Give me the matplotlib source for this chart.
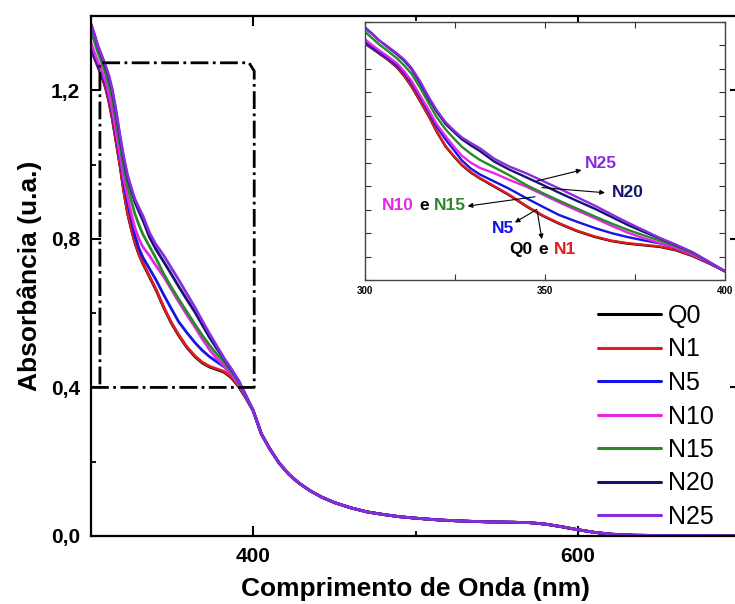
import matplotlib
matplotlib.use("Agg")
import matplotlib.pyplot as plt
from matplotlib.ticker import MultipleLocator, FuncFormatter, NullFormatter
from matplotlib.offsetbox import TextArea, HPacker, AnnotationBbox

plt.rcParams["font.family"] = ["Liberation Sans", "DejaVu Sans"]
plt.rcParams["font.weight"] = "bold"

# ---- absorption spectra (wavelength in nm, absorbance in a.u.) ----
wl_uv = [300, 302, 304, 306.5, 309, 311, 313, 315.5, 318, 320, 322.5, 325, 327, 329.5,
         332, 336, 340, 345, 349.5, 354, 359, 364, 368.5, 373, 377.5, 382, 386.5, 391,
         395.5, 400]
q0_uv = [1.309, 1.288, 1.266, 1.239, 1.206, 1.170, 1.126, 1.060, 0.993, 0.933, 0.869,
         0.823, 0.790, 0.758, 0.733, 0.698, 0.663, 0.613, 0.573, 0.540, 0.508, 0.483,
         0.466, 0.455, 0.448, 0.441, 0.426, 0.402, 0.371, 0.337]
n1_uv = [1.311, 1.290, 1.268, 1.241, 1.208, 1.172, 1.128, 1.062, 0.995, 0.935, 0.871,
         0.825, 0.792, 0.760, 0.735, 0.700, 0.665, 0.615, 0.575, 0.542, 0.510, 0.485,
         0.468, 0.457, 0.450, 0.443, 0.428, 0.403, 0.372, 0.337]
n5_uv = [1.315, 1.293, 1.271, 1.245, 1.216, 1.183, 1.142, 1.078, 1.012, 0.955, 0.899,
         0.850, 0.810, 0.775, 0.750, 0.720, 0.690, 0.648, 0.612, 0.577, 0.548, 0.521,
         0.500, 0.483, 0.469, 0.456, 0.436, 0.408, 0.374, 0.337]
n10_uv = [1.328, 1.303, 1.280, 1.253, 1.224, 1.190, 1.150, 1.085, 1.020, 0.965, 0.913,
          0.865, 0.830, 0.800, 0.778, 0.755, 0.728, 0.697, 0.664, 0.631, 0.596, 0.563,
          0.531, 0.502, 0.478, 0.458, 0.436, 0.408, 0.375, 0.337]
n15_uv = [1.360, 1.333, 1.305, 1.276, 1.245, 1.215, 1.180, 1.118, 1.048, 0.995, 0.942,
          0.900, 0.868, 0.838, 0.812, 0.780, 0.748, 0.704, 0.670, 0.638, 0.604, 0.570,
          0.541, 0.514, 0.490, 0.468, 0.443, 0.414, 0.377, 0.337]
n20_uv = [1.378, 1.352, 1.322, 1.292, 1.262, 1.235, 1.200, 1.138, 1.068, 1.018, 0.965,
          0.928, 0.900, 0.874, 0.850, 0.805, 0.772, 0.737, 0.705, 0.672, 0.637, 0.603,
          0.569, 0.535, 0.505, 0.477, 0.448, 0.418, 0.378, 0.337]
n25_uv = [1.374, 1.350, 1.322, 1.295, 1.266, 1.240, 1.205, 1.145, 1.075, 1.025, 0.972,
          0.935, 0.908, 0.884, 0.862, 0.817, 0.785, 0.754, 0.722, 0.690, 0.653, 0.616,
          0.580, 0.545, 0.512, 0.479, 0.450, 0.418, 0.378, 0.337]

# above 400 nm all samples coincide
wl_vis = [405, 410, 416, 422, 428, 435, 442, 450, 460, 470, 480, 490, 500, 515, 530,
          545, 560, 570, 580, 590, 600, 610, 620, 635, 660, 700]
abs_vis = [0.275, 0.236, 0.196, 0.166, 0.143, 0.122, 0.105, 0.090, 0.076, 0.065, 0.058,
           0.052, 0.048, 0.043, 0.040, 0.038, 0.037, 0.036, 0.032, 0.025, 0.017, 0.010,
           0.005, 0.002, 0.001, 0.000]

names = ["Q0", "N1", "N5", "N10", "N15", "N20", "N25"]
colors = ["#000000", "#e01c1c", "#1414e6", "#e628e6", "#2a8a2a", "#14146e", "#8a2be2"]
uv_sets = [q0_uv, n1_uv, n5_uv, n10_uv, n15_uv, n20_uv, n25_uv]

wl = wl_uv + wl_vis
spectra = [s + abs_vis for s in uv_sets]

# zoomed region marked on the main panel
zoom_x0, zoom_x1, zoom_y0, zoom_y1 = 305.5, 400.6, 0.4, 1.274

W, H = 735, 604
fig = plt.figure(figsize=(W / 100, H / 100), dpi=100)
ax = fig.add_axes([91 / W, 1 - 536 / H, (740 - 91) / W, (536 - 16) / H])

for name, col, y in zip(names, colors, spectra):
    ax.plot(wl, y, color=col, lw=2.0, label=name,
            solid_capstyle="round", solid_joinstyle="round")

ax.plot([300, zoom_x1, zoom_x1, zoom_x1 - 3.2, zoom_x0, zoom_x0],
        [zoom_y0, zoom_y0, zoom_y1 - 0.022, zoom_y1, zoom_y1, zoom_y0],
        color="black", lw=2.0, ls="-.")

ax.set_xlim(300, 700)
ax.set_ylim(0, 1.4)
ax.xaxis.set_major_locator(MultipleLocator(200))
ax.xaxis.set_minor_locator(MultipleLocator(100))
ax.yaxis.set_major_locator(MultipleLocator(0.4))
ax.yaxis.set_minor_locator(MultipleLocator(0.2))
comma = FuncFormatter(lambda v, p: f"{v:.1f}".replace(".", ","))
ax.yaxis.set_major_formatter(comma)
ax.tick_params(which="both", direction="in", top=True, right=True, labelsize=15, pad=8)
ax.tick_params(which="major", length=7, width=1.5)
ax.tick_params(which="minor", length=3.5, width=1.3)
for sp in ax.spines.values():
    sp.set_linewidth(1.6)

ax.set_xlabel("Comprimento de Onda (nm)", fontsize=19, fontweight="bold", labelpad=8)
ax.set_ylabel("Absorbância (u.a.)", fontsize=19, fontweight="bold", labelpad=6)

leg = ax.legend(loc="upper left", bbox_to_anchor=(598 / W, 1 - 304 / H),
                bbox_transform=fig.transFigure, frameon=False,
                prop={"size": 18, "weight": "normal"}, handlelength=2.5,
                handletextpad=0.3, labelspacing=0.38, borderpad=0, borderaxespad=0)
for ln in leg.get_lines():
    ln.set_linewidth(2.2)

# ---- inset: detail of 300-400 nm ----
axin = fig.add_axes([364.5 / W, 1 - 280 / H, (725 - 364.5) / W, (280 - 22) / H])
axin.set_facecolor("white")
for name, col, y in zip(names, colors, spectra):
    axin.plot(wl, y, color=col, lw=1.7, solid_joinstyle="round")
axin.set_xlim(300, 400)
axin.set_ylim(0.3, 1.4)
axin.xaxis.set_major_locator(MultipleLocator(50))
axin.xaxis.set_minor_locator(MultipleLocator(25))
axin.yaxis.set_major_locator(MultipleLocator(0.2))
axin.yaxis.set_minor_locator(MultipleLocator(0.1))
axin.yaxis.set_major_formatter(NullFormatter())
axin.tick_params(which="both", direction="in", top=True, right=True,
                 length=4, width=0.8, color="#333333", labelsize=7, pad=4)
for sp in axin.spines.values():
    sp.set_linewidth(1.0)
    sp.set_edgecolor("#444444")

lbl_size = 12.5
arrow_kw = dict(arrowstyle="-|>", lw=0.8, color="black", mutation_scale=7,
                shrinkA=0, shrinkB=0)


def pointer(tail, head):
    axin.annotate("", xy=head, xytext=tail, xycoords="data", textcoords="data",
                  arrowprops=arrow_kw)


def label(parts, xy, align):
    areas = [TextArea(t, textprops=dict(color=c, fontsize=lbl_size, fontweight="bold"))
             for t, c in parts]
    box = HPacker(children=areas, align="baseline", pad=0, sep=4)
    ab = AnnotationBbox(box, xy, xycoords="data", frameon=False,
                        box_alignment=align, pad=0)
    axin.add_artist(ab)


label([("N25", colors[6])], (365.6, 0.795), (0.5, 0.5))
pointer((347.8, 0.722), (360.2, 0.769))

label([("N20", colors[5])], (373.0, 0.674), (0.5, 0.5))
pointer((349.2, 0.694), (366.7, 0.672))

label([("N10", colors[3]), ("e", "black"), ("N15", colors[4])], (328.2, 0.618), (1.0, 0.5))
pointer((347.3, 0.655), (328.6, 0.615))

label([("N5", colors[2])], (338.4, 0.520), (0.5, 0.5))
pointer((347.8, 0.601), (341.7, 0.545))

label([("Q0", "black"), ("e", "black"), ("N1", colors[1])], (349.4, 0.431), (0.5, 0.5))
pointer((347.9, 0.594), (349.2, 0.474))

fig.savefig("out.png", dpi=100)
